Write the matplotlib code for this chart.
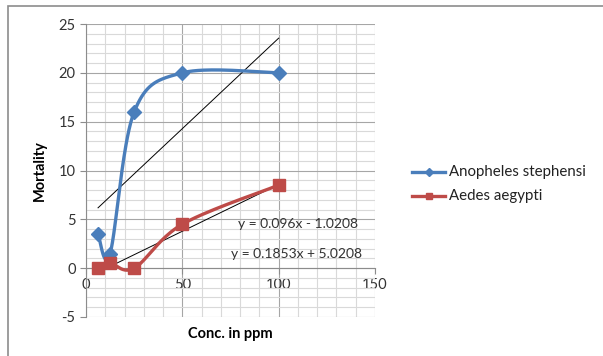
import numpy as np
import matplotlib.pyplot as plt
from matplotlib.patches import Rectangle

plt.rcParams['font.family'] = ['Lato', 'DejaVu Sans']
plt.rcParams['axes.unicode_minus'] = False

# data
conc = [6.25, 12.5, 25, 50, 100]
anopheles = [3.5, 1.5, 16, 20, 20]
aedes = [0, 0.5, 0, 4.5, 8.5]
series_names = ["Anopheles stephensi", "Aedes aegypti"]
eq_anopheles = (0.1853, 5.0208)
eq_aedes = (0.096, -1.0208)

blue = "#4A7EBB"
red = "#BE4B48"


def smooth(xs, ys, n=40):
    # excel style smoothed line: bezier segments with catmull-rom control points
    p = np.column_stack([xs, ys]).astype(float)
    out = []
    for i in range(len(p) - 1):
        p0 = p[i - 1] if i > 0 else p[i]
        p1, p2 = p[i], p[i + 1]
        p3 = p[i + 2] if i + 2 < len(p) else p[i + 1]
        c1 = p1 + (p2 - p0) / 6
        c2 = p2 - (p3 - p1) / 6
        t = np.linspace(0, 1, n)[:, None]
        seg = (1 - t)**3 * p1 + 3 * (1 - t)**2 * t * c1 + 3 * (1 - t) * t**2 * c2 + t**3 * p2
        out.append(seg)
    out = np.vstack(out)
    return out[:, 0], out[:, 1]


fig = plt.figure(figsize=(6.03, 3.56), dpi=100)
fig.patches.append(Rectangle((8 / 603, -0.1), 1.2, 1.1 - 6 / 356,
                             transform=fig.transFigure, fill=False,
                             edgecolor="#8c8c8c", linewidth=1.2))
ax = fig.add_axes([86 / 603, 1 - 317 / 356, (375 - 86) / 603, (317 - 24) / 356])

ax.set_xlim(0, 150)
ax.set_ylim(-5, 25)
ax.set_xticks([0, 50, 100, 150])
ax.set_yticks(range(-5, 26, 5))
ax.set_xticks(range(0, 151, 10), minor=True)
ax.set_yticks(range(-5, 26, 1), minor=True)
ax.grid(which="major", color="#a6a6a6", linewidth=0.8)
ax.grid(which="minor", color="#d9d9d9", linewidth=0.8)
ax.set_axisbelow(True)

for s in ["top", "right"]:
    ax.spines[s].set_visible(False)
ax.spines["bottom"].set_position(("data", 0))
ax.spines["bottom"].set_color("#8c8c8c")
ax.spines["left"].set_color("#8c8c8c")
ax.tick_params(which="minor", length=0)
ax.tick_params(which="major", length=4, color="#8c8c8c", labelsize=10.5, labelcolor="#333333")
ax.tick_params(axis="x", pad=3)

# trendlines
for eq in (eq_anopheles, eq_aedes):
    xt = np.array([conc[0], conc[-1]])
    ax.plot(xt, eq[0] * xt + eq[1], color="black", linewidth=0.7, zorder=3)

xs, ys = smooth(conc, anopheles)
ax.plot(xs, ys, color=blue, linewidth=2.4, zorder=4)
ax.plot(conc, anopheles, linestyle="none", marker="D", markersize=7, color=blue, zorder=5)
xs, ys = smooth(conc, aedes)
ax.plot(xs, ys, color=red, linewidth=2.4, zorder=4)
ax.plot(conc, aedes, linestyle="none", marker="s", markersize=8, color=red, zorder=5)

ax.text(110, 4.5, f"y = {eq_aedes[0]}x - {abs(eq_aedes[1])}", fontsize=10,
        ha="center", va="center", color="#333333", zorder=6)
ax.text(109, 1.5, f"y = {eq_anopheles[0]}x + {eq_anopheles[1]}", fontsize=10,
        ha="center", va="center", color="#333333", zorder=6)

ax.set_ylabel("Mortality", fontsize=10.5, fontweight="bold", labelpad=8)
ax.set_xlabel("Conc. in ppm", fontsize=10.5, fontweight="bold")
ax.xaxis.set_label_coords(0.5, -0.035)

# legend drawn by hand in figure pixels
for i, (name, col, mk, ms) in enumerate(zip(series_names, [blue, red], ["D", "s"], [4, 5])):
    yy = 1 - (172 + 24 * i) / 356
    fig.lines.append(plt.Line2D([412 / 603, 445 / 603], [yy, yy], color=col, linewidth=2.4,
                                transform=fig.transFigure))
    fig.lines.append(plt.Line2D([428.5 / 603], [yy], color=col, marker=mk, markersize=ms,
                                transform=fig.transFigure))
    fig.text(449 / 603, yy, name, fontsize=10.8, va="center", color="#222222")

fig.savefig("out.png", dpi=100)
